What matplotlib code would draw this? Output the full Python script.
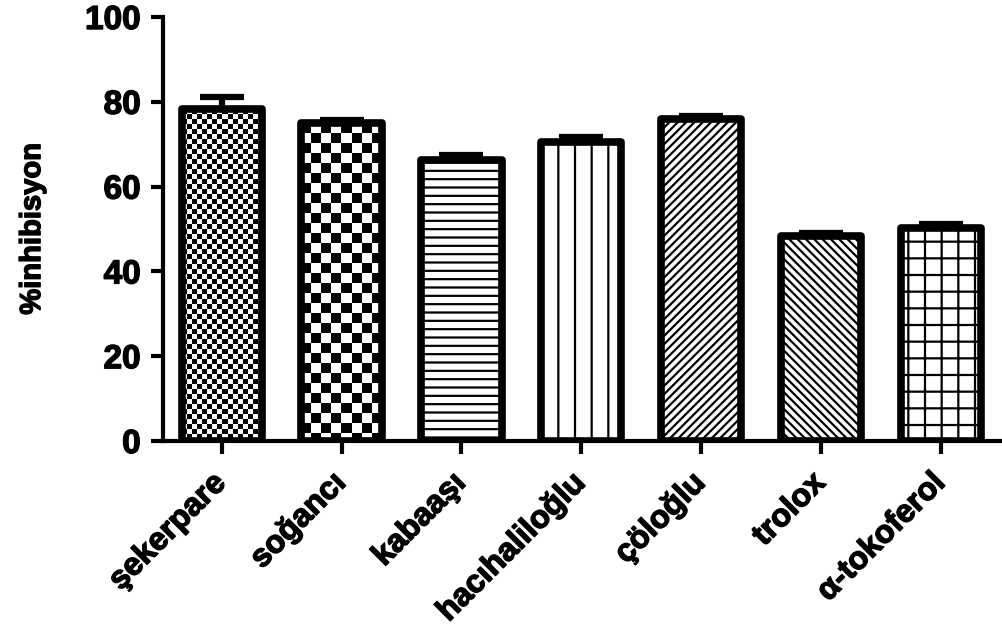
import numpy as np
import matplotlib
matplotlib.use('Agg')
from matplotlib import pyplot as plt
from matplotlib import patheffects

samples = ['şekerpare', 'soğancı', 'kabaaşı', 'hacıhaliloğlu', 'çöloğlu', 'trolox', 'α-tokoferol']
inhibition = [78.2, 74.9, 66.2, 70.5, 75.9, 48.3, 50.3]
sem = [3.0, 0.8, 1.3, 1.1, 0.7, 0.7, 0.8]

# fill style for each bar: ('checker', cell px) or a matplotlib hatch string
fills = [('checker', 5), ('checker', 10), '--', '|', '////', '\\\\\\\\', '+']

plt.rcParams['font.family'] = ['Liberation Sans', 'DejaVu Sans']
plt.rcParams['font.weight'] = 'bold'
plt.rcParams['hatch.linewidth'] = 1.6

heavy = [patheffects.withStroke(linewidth=1.0, foreground='black')]

fig = plt.figure(figsize=(10.02, 6.33), dpi=100)
ax = fig.add_axes([163 / 1002, 1 - 441 / 633, 1 - 163 / 1002, (441 - 17) / 633])

x = np.arange(len(samples))
ax.set_xlim(-0.49, 6.51)
ax.set_ylim(0, 100)

ax.errorbar(x, inhibition, yerr=[np.zeros(len(sem)), sem], fmt='none',
            ecolor='black', elinewidth=4.5, capsize=16, capthick=4.5, zorder=1)

bars = ax.bar(x, inhibition, width=0.67, facecolor='white', edgecolor='black',
              linewidth=5.5, joinstyle='round', zorder=3)

fig.canvas.draw()
for bar, style in zip(bars, fills):
    if isinstance(style, tuple):
        bar.set_facecolor('none')
        cell = style[1]
        (x0, y0), (x1, y1) = ax.transData.transform(
            [(bar.get_x(), 0), (bar.get_x() + bar.get_width(), bar.get_height())])
        w, h = int(round(x1 - x0)), int(round(y1 - y0))
        yy, xx = np.mgrid[0:h, 0:w]
        board = ((yy // cell + xx // cell) % 2).astype(float)
        ax.imshow(board, cmap='gray', interpolation='nearest', aspect='auto',
                  extent=(bar.get_x(), bar.get_x() + bar.get_width(), 0, bar.get_height()),
                  clip_path=bar, zorder=2)
    else:
        bar.set_hatch(style)

ax.set_xlim(-0.49, 6.51)
ax.set_ylim(0, 100)

for side in ['top', 'right']:
    ax.spines[side].set_visible(False)
for side in ['left', 'bottom']:
    ax.spines[side].set_linewidth(3)
    ax.spines[side].set_capstyle('projecting')

ax.set_yticks([0, 20, 40, 60, 80, 100])
ax.set_xticks(x)
ax.set_xticklabels(samples, rotation=45, ha='right', va='center',
                   rotation_mode='anchor', fontsize=23, fontweight='bold')
ax.tick_params(axis='both', direction='out', length=9, width=3)
ax.tick_params(axis='y', labelsize=24, pad=7)
ax.tick_params(axis='x', pad=18)
for lbl in ax.get_yticklabels() + ax.get_xticklabels():
    lbl.set_fontweight('bold')
    lbl.set_path_effects(heavy)

ax.set_ylabel('%inhibisyon', fontsize=21, fontweight='bold', labelpad=28,
              path_effects=heavy)

fig.savefig('out.png', dpi=100)
